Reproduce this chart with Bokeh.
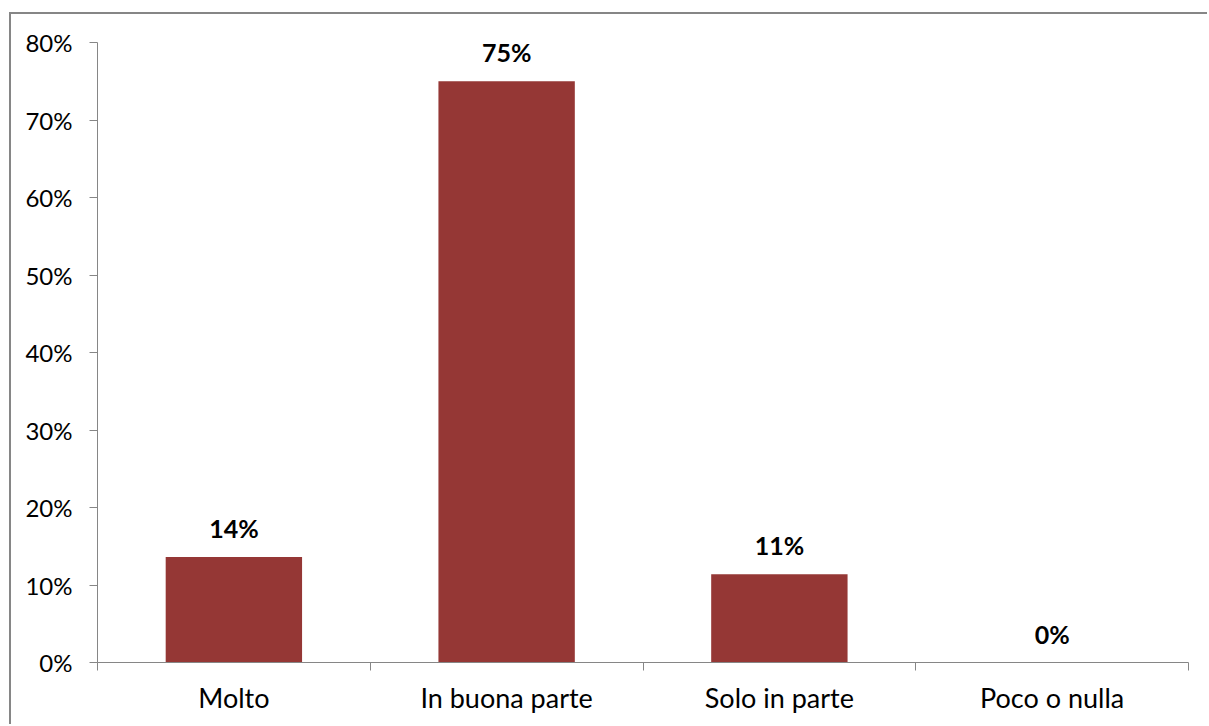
from bokeh.plotting import figure
from bokeh.models import (ColumnDataSource, FixedTicker, LabelSet, Range1d,
                          CustomJSTickFormatter)
from bokeh.core.properties import value
from bokeh.embed import file_html
from bokeh.resources import INLINE

categories = ["Molto", "In buona parte", "Solo in parte", "Poco o nulla"]
values = [13.6, 75.0, 11.4, 0.0]
labels = ["14%", "75%", "11%", "0%"]
y_ticks = [0, 10, 20, 30, 40, 50, 60, 70, 80]

FONT = "Lato"
GRAY = "#868686"

n = len(categories)
centers = [i + 0.5 for i in range(n)]
src = ColumnDataSource(dict(x=centers, cat=categories, val=values, lab=labels))

OX, OY = 11, 14  # offset of canvas from window (outer border)
p = figure(x_range=Range1d(0, n), y_range=(0, 80), width=1209 - OX, height=726 - OY,
           output_backend="svg", toolbar_location=None,
           min_border_left=97 - OX, min_border_right=21, min_border_top=42 - OY,
           min_border_bottom=64)
p.styles = {"margin-left": "9px", "margin-top": "12px",
            "border-left": "2px solid #868686", "border-top": "2px solid #868686"}
p.vbar(x="x", top="val", width=0.5, source=src, color="#953735", line_color=None)

lbl = LabelSet(x="x", y="val", text="lab", source=src, text_align="center",
               text_baseline="bottom", y_offset=14, text_font=value(FONT),
               text_font_size="25px", text_font_style="bold", text_color="black")
p.add_layout(lbl)

p.grid.visible = False
p.outline_line_color = None

p.yaxis.ticker = FixedTicker(ticks=y_ticks)
p.yaxis.formatter = CustomJSTickFormatter(code="return tick + '%';")
p.yaxis.major_tick_out = 8
p.yaxis.major_tick_in = 0
p.yaxis.minor_tick_line_color = None
p.yaxis.major_label_text_font = FONT
p.yaxis.major_label_text_font_size = "24px"
p.yaxis.major_label_text_color = "black"
p.yaxis.major_label_standoff = 17
p.yaxis.axis_line_color = GRAY
p.yaxis.major_tick_line_color = GRAY

p.xaxis.ticker = FixedTicker(ticks=centers, minor_ticks=list(range(n + 1)))
p.xaxis.major_label_overrides = {c: cat for c, cat in zip(centers, categories)}
p.xaxis.major_tick_line_color = None
p.xaxis.minor_tick_out = 8
p.xaxis.minor_tick_in = 0
p.xaxis.minor_tick_line_color = GRAY
p.xaxis.axis_line_color = GRAY
p.xaxis.major_label_text_font = FONT
p.xaxis.major_label_text_font_size = "27px"
p.xaxis.major_label_text_color = "black"
p.xaxis.major_label_standoff = 10

open("out.html", "w").write(file_html(p, INLINE))
